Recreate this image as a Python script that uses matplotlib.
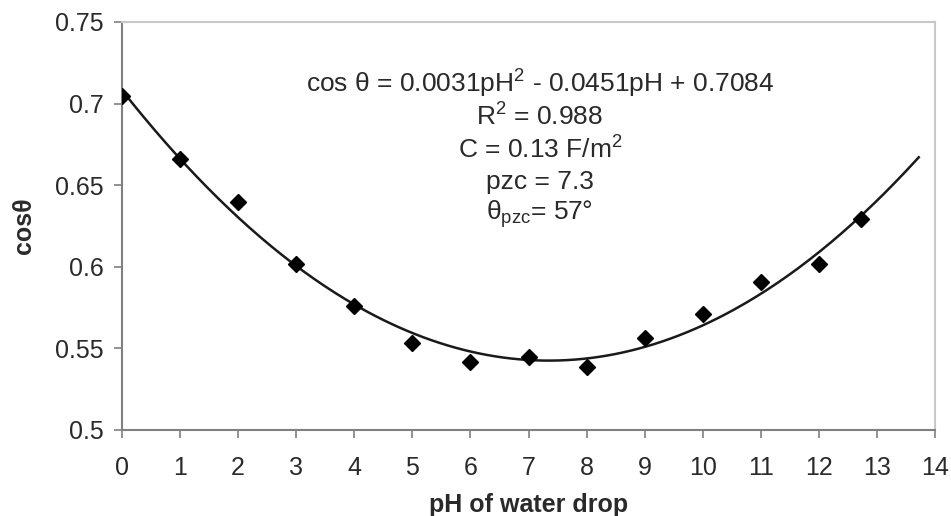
import numpy as np
import matplotlib
matplotlib.use("Agg")
import matplotlib.pyplot as plt

plt.rcParams['font.family'] = ['Liberation Sans', 'DejaVu Sans']
plt.rcParams['mathtext.fontset'] = 'custom'
plt.rcParams['mathtext.rm'] = 'Liberation Sans'
plt.rcParams['mathtext.it'] = 'Liberation Sans'

# data
ph = [0, 1, 2, 3, 4, 5, 6, 7, 8, 9, 10, 11, 12, 12.72]
cos_theta = [0.7048, 0.6661, 0.6399, 0.6017, 0.5760, 0.5531, 0.5415,
             0.5445, 0.5384, 0.5562, 0.5711, 0.5905, 0.6017, 0.6291]
x_ticks = list(range(0, 15))
y_ticks = [0.5, 0.55, 0.6, 0.65, 0.7, 0.75]
y_tick_labels = ['0.5', '0.55', '0.6', '0.65', '0.7', '0.75']
annotation_lines = [
    "cos θ = 0.0031pH$^2$ - 0.0451pH + 0.7084",
    "R$^2$ = 0.988",
    "C = 0.13 F/m$^2$",
    "pzc = 7.3",
    "θ$_{\\mathrm{pzc}}$= 57°",
]
trend_forward = 1.0  # trendline extended forward by one unit

fig = plt.figure(figsize=(9.51, 5.16), dpi=100)
ax = fig.add_axes([0.1283, 0.1667, 0.9832 - 0.1283, 0.9574 - 0.1667])

# quadratic trendline (as in the original spreadsheet)
coef = np.polyfit(ph, cos_theta, 2)
xs = np.linspace(min(ph), max(ph) + trend_forward, 300)
ax.plot(xs, np.polyval(coef, xs), color='#1a1a1a', lw=1.8, zorder=2)
ax.plot(ph, cos_theta, linestyle='none', marker='D', markersize=8.5,
        color='black', zorder=3)

ax.set_xlim(0, 14)
ax.set_ylim(0.5, 0.75)
ax.set_xticks(x_ticks)
ax.set_xticklabels([str(t) for t in x_ticks])
ax.set_yticks(y_ticks)
ax.set_yticklabels(y_tick_labels)

for s in ['left', 'bottom']:
    ax.spines[s].set_color('#808080')
    ax.spines[s].set_linewidth(1.5)
for s in ['top', 'right']:
    ax.spines[s].set_color('#c8c8c8')
    ax.spines[s].set_linewidth(1.5)

ax.tick_params(axis='both', direction='out', length=6, width=1.2,
               color='#808080', labelsize=18, labelcolor='#2a2a2a')
ax.tick_params(axis='y', pad=7)
ax.tick_params(axis='x', pad=13)

ax.set_xlabel('pH of water drop', fontsize=18, fontweight='bold',
              color='#2a2a2a', labelpad=9)
ax.set_ylabel('cosθ', fontsize=18, fontweight='bold', color='#2a2a2a',
              labelpad=14)

ys = [0.848, 0.767, 0.686, 0.608, 0.529]
for txt, yy in zip(annotation_lines, ys):
    ax.text(0.514, yy, txt, transform=ax.transAxes, ha='center', va='center',
            fontsize=19, color='#2a2a2a')

fig.savefig('out.png', dpi=100)
